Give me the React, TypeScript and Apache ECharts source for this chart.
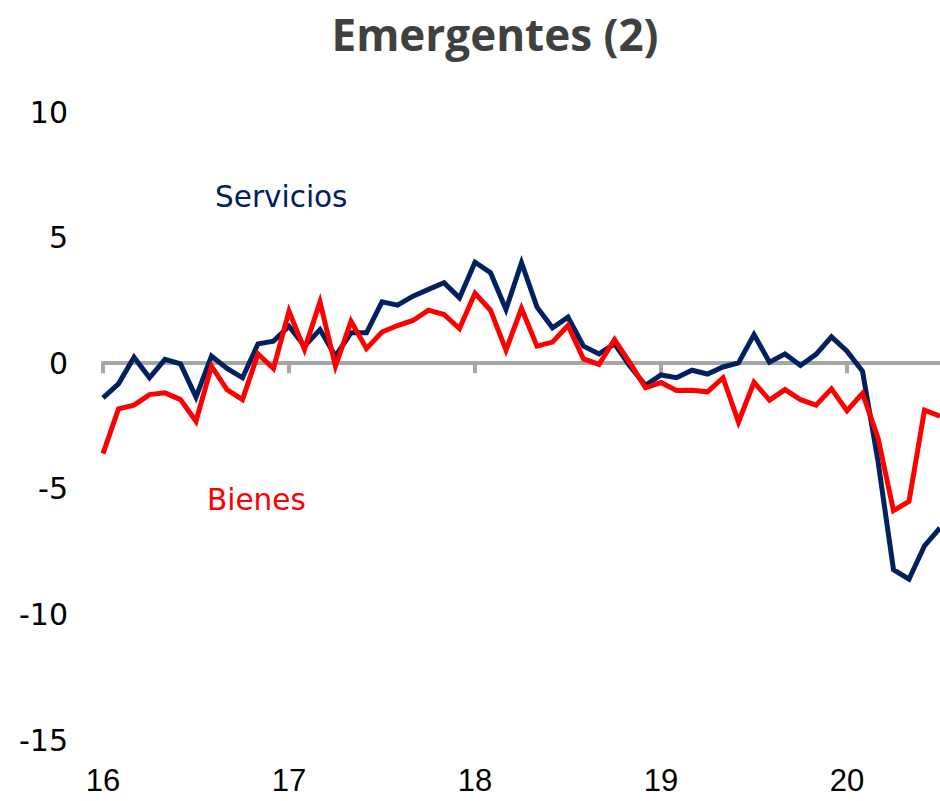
import React, { useEffect, useRef } from "react";
import * as echarts from "echarts";

const years = ["16", "17", "18", "19", "20"];
const monthsPerYear = 12;
const pointCount = 55; // Jan 2016 .. Jul 2020

const servicios = [
  -1.38, -0.82, 0.24, -0.58, 0.15, -0.03, -1.35, 0.28, -0.21, -0.58, 0.77, 0.88,
  1.47, 0.68, 1.34, 0.28, 1.21, 1.21, 2.44, 2.31, 2.67, 2.94, 3.2, 2.6,
  4.02, 3.6, 2.14, 4.0, 2.23, 1.41, 1.83, 0.68, 0.37, 0.77, -0.12, -0.88,
  -0.47, -0.58, -0.28, -0.43, -0.15, 0.01, 1.14, 0.04, 0.37, -0.09, 0.35, 1.05,
  0.48, -0.32, -3.9, -8.22, -8.6, -7.27, -6.56,
];

const bienes = [
  -3.6, -1.82, -1.67, -1.25, -1.18, -1.45, -2.31, -0.12, -1.05, -1.45, 0.37, -0.21,
  2.07, 0.55, 2.44, -0.12, 1.67, 0.58, 1.24, 1.5, 1.7, 2.11, 1.94, 1.38,
  2.78, 2.11, 0.52, 2.18, 0.68, 0.84, 1.5, 0.17, -0.05, 0.94, 0.01, -0.98,
  -0.77, -1.09, -1.08, -1.14, -0.58, -2.34, -0.76, -1.47, -1.05, -1.45, -1.67, -1.02,
  -1.89, -1.2, -2.97, -5.87, -5.5, -1.87, -2.11,
];

const categories: string[] = [];
for (let i = 0; i < pointCount; i++) {
  const y = years[Math.floor(i / monthsPerYear)];
  const m = (i % monthsPerYear) + 1;
  categories.push(`${y}-${m < 10 ? "0" + m : m}`);
}

const NAVY = "#002060";
const RED = "#FF0000";
const GRAY = "#A6A6A6";

export default function App() {
  const ref = useRef<HTMLDivElement>(null);
  useEffect(() => {
    if (!ref.current) return;
    const chart = echarts.init(ref.current, undefined, { renderer: "svg" });
    chart.setOption({
      animation: false,
      backgroundColor: "#FFFFFF",
      title: {
        text: "Emergentes (2)",
        left: 490,
        top: 7,
        textAlign: "center",
        textStyle: {
          fontFamily: "'Open Sans', sans-serif",
          fontWeight: "bold",
          fontSize: 44,
          color: "#404040",
        },
      },
      grid: { left: 103, right: 0, top: 112, bottom: 61, containLabel: false },
      xAxis: [
        {
          type: "category",
          data: categories,
          boundaryGap: false,
          axisLine: { show: true, onZero: true, lineStyle: { color: GRAY, width: 4 } },
          axisTick: {
            show: true,
            length: 10,
            interval: (idx: number) => idx % monthsPerYear === 0,
            lineStyle: { color: GRAY, width: 4 },
          },
          axisLabel: { show: false },
          splitLine: { show: false },
          z: 1,
        },
        {
          type: "category",
          data: categories,
          boundaryGap: false,
          position: "bottom",
          axisLine: { show: false, onZero: false },
          axisTick: { show: false },
          axisLabel: {
            show: true,
            interval: (idx: number) => idx % monthsPerYear === 0,
            formatter: (v: string) => v.split("-")[0],
            margin: 25,
            fontFamily: "'Liberation Sans', Arial, sans-serif",
            fontSize: 31,
            lineHeight: 31,
            color: "#000000",
          },
          splitLine: { show: false },
        },
      ],
      yAxis: {
        type: "value",
        min: -15,
        max: 10,
        interval: 5,
        axisLine: { show: false },
        axisTick: { show: false },
        splitLine: { show: false },
        axisLabel: {
          margin: 35,
          fontFamily: "'DejaVu Sans', sans-serif",
          fontSize: 30,
          color: "#000000",
        },
      },
      graphic: [
        {
          type: "text",
          left: 215,
          top: 182,
          style: {
            text: "Servicios",
            fill: NAVY,
            font: "29.5px 'DejaVu Sans', sans-serif",
          },
        },
        {
          type: "text",
          left: 207,
          top: 485,
          style: {
            text: "Bienes",
            fill: RED,
            font: "29.5px 'DejaVu Sans', sans-serif",
          },
        },
      ],
      series: [
        {
          name: "Servicios",
          type: "line",
          xAxisIndex: 0,
          data: servicios,
          symbol: "none",
          lineStyle: { color: NAVY, width: 5, join: "miter" },
          z: 3,
        },
        {
          name: "Bienes",
          type: "line",
          xAxisIndex: 0,
          data: bienes,
          symbol: "none",
          lineStyle: { color: RED, width: 5, join: "miter" },
          z: 4,
        },
      ],
    });
    return () => chart.dispose();
  }, []);
  return (
    <div
      ref={ref}
      style={{ position: "fixed", left: 0, top: 0, width: 940, height: 801 }}
    />
  );
}
